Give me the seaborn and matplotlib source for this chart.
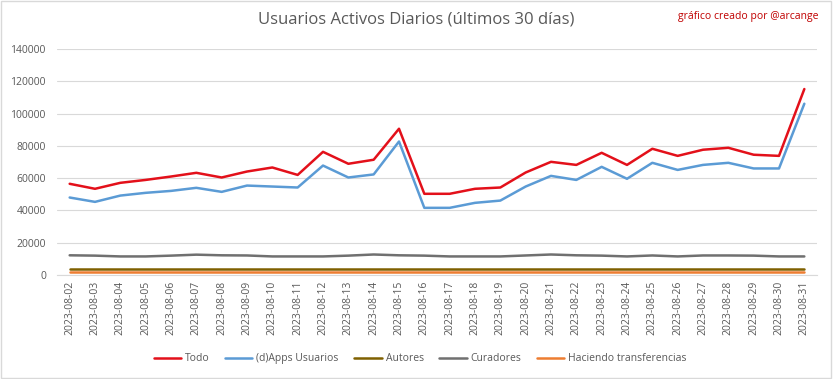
import pandas as pd
import seaborn as sns
import matplotlib.pyplot as plt
from matplotlib.patches import Rectangle

# fechas (eje x)
dates = ['2023-08-%02d' % d for d in range(2, 32)]

todo = [56500, 53400, 57100, 58900, 61000, 63300, 60400, 64100, 66600, 62000,
        76300, 68900, 71400, 90600, 50300, 50300, 53400, 54200, 63500, 70100,
        68200, 75700, 68200, 78200, 73800, 77600, 78800, 74500, 73800, 115200]
dapps = [48000, 45300, 49200, 50900, 52100, 54000, 51500, 55400, 54800, 54200,
         67800, 60400, 62300, 82700, 41600, 41600, 44700, 46100, 54800, 61400,
         58900, 67000, 59600, 69500, 65100, 68200, 69500, 66000, 66000, 106100]
autores = [3500] * 30
curadores = [12200, 12000, 11500, 11500, 12000, 12600, 12200, 12100, 11500, 11500,
             11500, 12000, 12700, 12200, 12000, 11500, 11500, 11500, 12100, 12700,
             12200, 12000, 11500, 12100, 11500, 12100, 12100, 12000, 11500, 11500]
transferencias = [1700] * 30

series = ['Todo', '(d)Apps Usuarios', 'Autores', 'Curadores', 'Haciendo transferencias']
colores = ['#E3101A', '#5B9BD5', '#7F6000', '#707070', '#ED7D31']

df = pd.DataFrame({'Fecha': dates, 'Todo': todo, '(d)Apps Usuarios': dapps,
                   'Autores': autores, 'Curadores': curadores,
                   'Haciendo transferencias': transferencias})
df_long = df.melt(id_vars='Fecha', var_name='Serie', value_name='Usuarios')

sns.set_style('white')
plt.rcParams['font.family'] = ['Open Sans', 'DejaVu Sans']

fig = plt.figure(figsize=(8.33, 3.79), dpi=100)
ax = fig.add_axes([57 / 833, 1 - 275 / 379, (817 - 57) / 833, (275 - 49) / 379])

sns.lineplot(data=df_long, x='Fecha', y='Usuarios', hue='Serie', hue_order=series,
             palette=colores, linewidth=1.8, sort=False, ax=ax, legend=True)

ax.set_ylim(0, 140000)
ax.set_yticks(range(0, 140001, 20000))
ax.set_xlim(-0.5, len(dates) - 0.5)
ax.grid(axis='y', color='#D9D9D9', linewidth=0.8)
ax.set_axisbelow(True)
for s in ['top', 'right', 'left']:
    ax.spines[s].set_visible(False)
ax.spines['bottom'].set_color('#D9D9D9')
ax.tick_params(axis='x', labelrotation=90, labelsize=7.5, colors='#595959', length=0, pad=4)
ax.tick_params(axis='y', labelsize=7.5, colors='#595959', length=0, pad=8)
ax.set_xlabel('')
ax.set_ylabel('')

leg = ax.legend(loc='upper center', bbox_to_anchor=(0.478, -0.305), ncol=5, frameon=False,
                fontsize=7.5, handlelength=2.6, columnspacing=1.5, handletextpad=0.4)
for t in leg.get_texts():
    t.set_color('#595959')

fig.text(0.5, 1 - 20 / 379, 'Usuarios Activos Diarios (últimos 30 días)', ha='center',
         va='center', fontsize=12, color='#595959')
fig.text(818 / 833, 1 - 16 / 379, 'gráfico creado por @arcange', ha='right',
         va='center', fontsize=7.5, color='#C00000')

fig.patches.append(Rectangle((0.001, 0.002), 0.997, 0.996, transform=fig.transFigure,
                             fill=False, edgecolor='#D9D9D9', linewidth=1))

fig.savefig('out.png', dpi=100)
